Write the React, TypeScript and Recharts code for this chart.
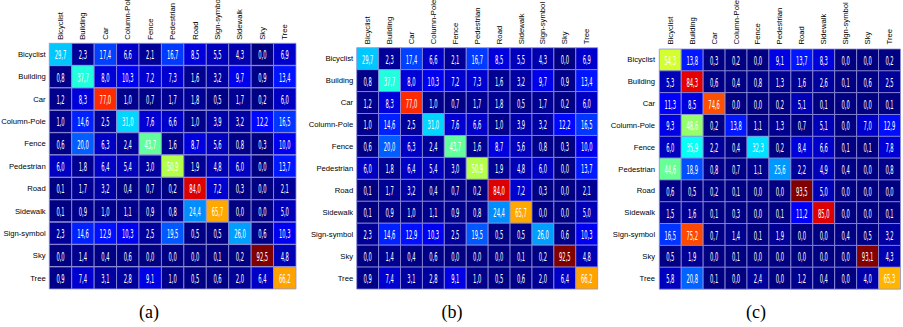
import React from 'react';
import { BarChart, Bar, XAxis, YAxis, Cell, LabelList } from 'recharts';

const rowLabels = ['Bicyclist', 'Building', 'Car', 'Column-Pole', 'Fence', 'Pedestrian', 'Road', 'Sidewalk', 'Sign-symbol', 'Sky', 'Tree'];
const colLabelsA = ['Bicyclist', 'Building', 'Car', 'Column-Pole', 'Fence', 'Pedestrian', 'Road', 'Sign-symbol', 'Sidewalk', 'Sky', 'Tree'];
const colLabelsBC = ['Bicyclist', 'Building', 'Car', 'Column-Pole', 'Fence', 'Pedestrian', 'Road', 'Sidewalk', 'Sign-symbol', 'Sky', 'Tree'];

const valuesA = [
  [29.7, 2.3, 17.4, 6.6, 2.1, 16.7, 8.5, 5.5, 4.3, 0.0, 6.9],
  [0.8, 37.7, 8.0, 10.3, 7.2, 7.3, 1.6, 3.2, 9.7, 0.9, 13.4],
  [1.2, 8.3, 77.0, 1.0, 0.7, 1.7, 1.8, 0.5, 1.7, 0.2, 6.0],
  [1.0, 14.6, 2.5, 31.0, 7.6, 6.6, 1.0, 3.9, 3.2, 12.2, 16.5],
  [0.6, 20.0, 6.3, 2.4, 43.7, 1.6, 8.7, 5.6, 0.8, 0.3, 10.0],
  [6.0, 1.8, 6.4, 5.4, 3.0, 50.9, 1.9, 4.8, 6.0, 0.0, 13.7],
  [0.1, 1.7, 3.2, 0.4, 0.7, 0.2, 84.0, 7.2, 0.3, 0.0, 2.1],
  [0.1, 0.9, 1.0, 1.1, 0.9, 0.8, 24.4, 65.7, 0.0, 0.0, 5.0],
  [2.3, 14.6, 12.9, 10.3, 2.5, 19.5, 0.5, 0.5, 26.0, 0.6, 10.3],
  [0.0, 1.4, 0.4, 0.6, 0.0, 0.0, 0.0, 0.1, 0.2, 92.5, 4.8],
  [0.9, 7.4, 3.1, 2.8, 9.1, 1.0, 0.5, 0.6, 2.0, 6.4, 66.2],
];

const valuesB = [
  [29.7, 2.3, 17.4, 6.6, 2.1, 16.7, 8.5, 5.5, 4.3, 0.0, 6.9],
  [0.8, 37.7, 8.0, 10.3, 7.2, 7.3, 1.6, 3.2, 9.7, 0.9, 13.4],
  [1.2, 8.3, 77.0, 1.0, 0.7, 1.7, 1.8, 0.5, 1.7, 0.2, 6.0],
  [1.0, 14.6, 2.5, 31.0, 7.6, 6.6, 1.0, 3.9, 3.2, 12.2, 16.5],
  [0.6, 20.0, 6.3, 2.4, 43.7, 1.6, 8.7, 5.6, 0.8, 0.3, 10.0],
  [6.0, 1.8, 6.4, 5.4, 3.0, 50.9, 1.9, 4.8, 6.0, 0.0, 13.7],
  [0.1, 1.7, 3.2, 0.4, 0.7, 0.2, 84.0, 7.2, 0.3, 0.0, 2.1],
  [0.1, 0.9, 1.0, 1.1, 0.9, 0.8, 24.4, 65.7, 0.0, 0.0, 5.0],
  [2.3, 14.6, 12.9, 10.3, 2.5, 19.5, 0.5, 0.5, 26.0, 0.6, 10.3],
  [0.0, 1.4, 0.4, 0.6, 0.0, 0.0, 0.0, 0.1, 0.2, 92.5, 4.8],
  [0.9, 7.4, 3.1, 2.8, 9.1, 1.0, 0.5, 0.6, 2.0, 6.4, 66.2],
];

const valuesC = [
  [54.3, 13.8, 0.3, 0.2, 0.0, 9.1, 13.7, 8.3, 0.0, 0.0, 0.2],
  [5.3, 84.3, 0.6, 0.4, 0.8, 1.3, 1.6, 2.6, 0.1, 0.6, 2.5],
  [11.3, 8.5, 74.6, 0.0, 0.0, 0.2, 5.1, 0.1, 0.0, 0.0, 0.1],
  [9.3, 48.6, 0.2, 13.8, 1.1, 1.3, 0.7, 5.1, 0.0, 7.0, 12.9],
  [6.0, 35.9, 2.2, 0.4, 32.3, 0.2, 8.4, 6.6, 0.1, 0.1, 7.8],
  [44.6, 18.9, 0.8, 0.7, 1.1, 25.6, 2.2, 4.9, 0.4, 0.0, 0.8],
  [0.6, 0.5, 0.2, 0.1, 0.0, 0.0, 93.5, 5.0, 0.0, 0.0, 0.0],
  [1.5, 1.6, 0.1, 0.3, 0.0, 0.1, 11.2, 85.0, 0.0, 0.0, 0.1],
  [16.5, 75.2, 0.7, 1.4, 0.1, 1.9, 0.0, 0.0, 0.4, 0.5, 3.2],
  [0.5, 1.9, 0.0, 0.1, 0.0, 0.0, 0.0, 0.0, 0.0, 93.1, 4.3],
  [5.8, 20.8, 0.1, 0.0, 2.4, 0.0, 1.2, 0.4, 0.0, 4.0, 65.3],
];

const captions = ['(a)', '(b)', '(c)'];

const LABEL_FONT = '"Liberation Sans", Arial, sans-serif';
const NUM_FONT = '"Liberation Sans Narrow", "DejaVu Sans Condensed", "Liberation Sans", sans-serif';
const AXIS_H = 40;

function clamp(v: number) {
  return Math.max(0, Math.min(1, v));
}

function jet(t: number) {
  const r = clamp(1.5 - Math.abs(4 * t - 3));
  const g = clamp(1.5 - Math.abs(4 * t - 2));
  const b = clamp(1.5 - Math.abs(4 * t - 1));
  const h = (v: number) => Math.round(v * 255).toString(16).padStart(2, '0');
  return `#${h(r)}${h(g)}${h(b)}`;
}

const ColTick = (props: any) => {
  const { x, payload, cols, gap, plotTop } = props;
  const idx = Math.floor(payload.value);
  return (
    <text
      transform={`translate(${x},${plotTop - gap}) rotate(-90)`}
      textAnchor="start"
      dominantBaseline="central"
      fontSize={7.7}
      fontFamily={LABEL_FONT}
      fill="#000"
    >
      {cols[idx]}
    </text>
  );
};

const RowTick = (props: any) => {
  const { x, y, payload, gap } = props;
  return (
    <text
      x={x - gap}
      y={y}
      textAnchor="end"
      dominantBaseline="central"
      fontSize={7.7}
      fontFamily={LABEL_FONT}
      fill="#000"
    >
      {payload.value}
    </text>
  );
};

const renderValue = (props: any) => {
  const { x, y, width, height, value } = props;
  const cx = Number(x) + Number(width) / 2;
  const cy = Number(y) + Number(height) / 2;
  const txt = Number(value).toFixed(1).replace('.', ',');
  return (
    <text
      transform={`translate(${cx},${cy + 0.5}) scale(0.48,1)`}
      textAnchor="middle"
      dominantBaseline="central"
      fontSize={12}
      fontFamily={NUM_FONT}
      fill="#ffffff"
    >
      {txt}
    </text>
  );
};

type MatrixProps = {
  values: number[][];
  cols: string[];
  width: number;
  height: number;
  margin: { top: number; right: number; bottom: number; left: number };
  yAxisWidth: number;
  colGap: number;
  rowGap: number;
};

function Matrix({ values, cols, width, height, margin, yAxisWidth, colGap, rowGap }: MatrixProps) {
  const vmax = Math.max(...values.flat());
  const data = rowLabels.map((r, i) => {
    const o: any = { row: r };
    cols.forEach((_, j) => {
      o['c' + j] = 1;
      o['v' + j] = values[i][j];
    });
    return o;
  });
  const plotTop = margin.top;
  const m = { ...margin, top: margin.top - AXIS_H };
  return (
    <BarChart layout="vertical" width={width} height={height} data={data} margin={m} barCategoryGap={0} barGap={0}>
      <XAxis
        type="number"
        orientation="top"
        domain={[0, cols.length]}
        ticks={cols.map((_, j) => j + 0.5)}
        height={AXIS_H}
        interval={0}
        tickLine={false}
        axisLine={false}
        tickSize={0}
        tickMargin={0}
        tick={<ColTick cols={cols} gap={colGap} plotTop={plotTop} />}
      />
      <YAxis
        type="category"
        dataKey="row"
        width={yAxisWidth}
        interval={0}
        tickLine={false}
        axisLine={false}
        tickSize={0}
        tickMargin={0}
        tick={<RowTick gap={rowGap} />}
      />
      {cols.map((_, j) => (
        <Bar key={j} dataKey={'c' + j} stackId="s" isAnimationActive={false} stroke="#9090d8" strokeWidth={0.8}>
          {values.map((row, i) => (
            <Cell key={i} fill={jet(row[j] / vmax)} />
          ))}
          <LabelList dataKey={'v' + j} content={renderValue} />
        </Bar>
      ))}
    </BarChart>
  );
}

export default function App() {
  const captionX = [149, 452, 756];
  return (
    <div style={{ position: 'absolute', left: 0, top: 0, width: 903, height: 327, background: '#fff', overflow: 'hidden' }}>
      <div style={{ position: 'absolute', left: 0, top: 0 }}>
        <Matrix
          values={valuesA}
          cols={colLabelsA}
          width={300}
          height={295}
          margin={{ top: 43.3, right: 4, bottom: 5.7, left: 0 }}
          yAxisWidth={49.3}
          colGap={3.5}
          rowGap={3.6}
        />
      </div>
      <div style={{ position: 'absolute', left: 300, top: 0 }}>
        <Matrix
          values={valuesB}
          cols={colLabelsBC}
          width={300}
          height={295}
          margin={{ top: 47.7, right: 2.3, bottom: 6, left: 0 }}
          yAxisWidth={56.7}
          colGap={3.5}
          rowGap={3.5}
        />
      </div>
      <div style={{ position: 'absolute', left: 600, top: 0 }}>
        <Matrix
          values={valuesC}
          cols={colLabelsBC}
          width={303}
          height={295}
          margin={{ top: 49, right: 2.5, bottom: 6, left: 0 }}
          yAxisWidth={59.3}
          colGap={4.5}
          rowGap={4.2}
        />
      </div>
      {captions.map((c, i) => (
        <div
          key={c}
          style={{
            position: 'absolute',
            left: captionX[i] - 30,
            width: 60,
            top: 301,
            textAlign: 'center',
            fontFamily: '"Liberation Serif", "Times New Roman", serif',
            fontSize: 18,
            lineHeight: '22px',
            color: '#000',
          }}
        >
          {c}
        </div>
      ))}
    </div>
  );
}
